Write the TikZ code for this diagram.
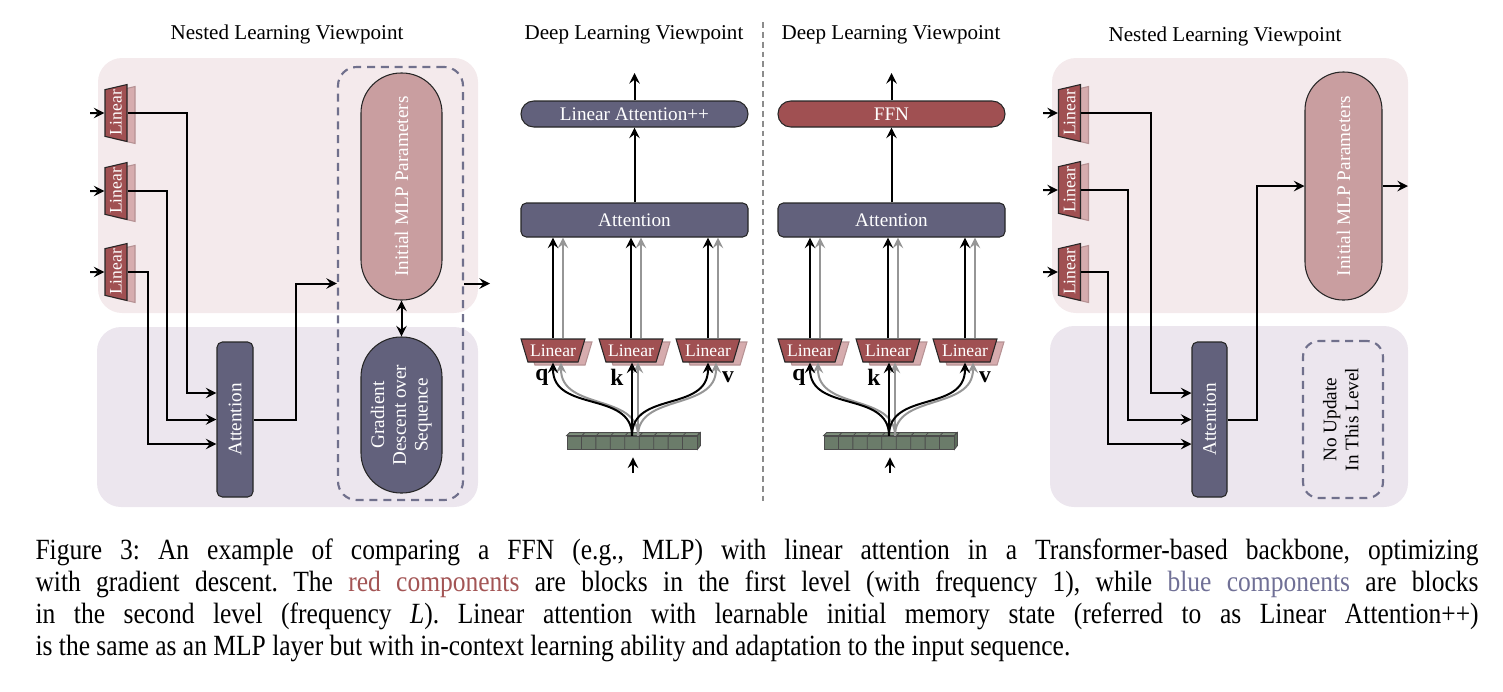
\documentclass[tikz,border=0pt]{standalone}
\usepackage{fontspec}
\setmainfont{Liberation Serif}
\newfontfamily\capfamily[FakeStretch=0.87]{Liberation Serif}
\usepackage{graphicx}
\usetikzlibrary{arrows,shapes.geometric}

\definecolor{blueblk}{RGB}{98,97,124}
\definecolor{redblk}{RGB}{160,80,82}
\definecolor{pinkblk}{RGB}{201,158,160}
\definecolor{linshade}{RGB}{214,172,174}
\definecolor{pinkbg}{RGB}{244,234,236}
\definecolor{lavbg}{RGB}{236,230,238}
\definecolor{tokgreen}{RGB}{107,124,106}
\definecolor{toktop}{RGB}{128,146,126}
\definecolor{tokside}{RGB}{92,108,91}
\definecolor{dashcol}{RGB}{112,112,140}
\definecolor{grayarr}{RGB}{150,150,150}
\definecolor{divgray}{RGB}{140,140,140}
\definecolor{capred}{RGB}{163,85,85}
\definecolor{capblue}{RGB}{112,112,150}

\newcommand{\pu}{0.375pt}
\newcommand{\nodefont}{\fontsize{7.2}{8.2}\selectfont}
\newcommand{\linfont}{\fontsize{6.6}{7}\selectfont}
\newcommand{\titlefont}{\fontsize{7.9}{9}\selectfont}
\newcommand{\capfont}{\capfamily\fontsize{11}{12}\selectfont\frenchspacing}

\tikzset{
  bgpink/.style={fill=pinkbg, rounded corners=9pt},
  bglav/.style={fill=lavbg, rounded corners=9pt},
  block/.style={draw=black!85, line width=0.4pt, text=white, font=\nodefont, inner sep=0pt, rounded corners=2pt},
  hlinear/.style={trapezium, trapezium stretches=true, trapezium angle=118, minimum width=64*\pu, minimum height=23*\pu, inner sep=0pt, font=\linfont, draw=black!85, line width=0.4pt},
  vlinear/.style={trapezium, trapezium stretches=true, trapezium angle=67, minimum width=57*\pu, minimum height=22*\pu, inner sep=0pt, rotate=90, font=\linfont, draw=black!85, line width=0.4pt},
  linmain/.style={fill=redblk, text=white},
  linback/.style={fill=linshade, draw=linshade!85!black},
  flow/.style={-stealth, line width=0.75pt},
  grayflow/.style={flow, draw=grayarr},
  dashbox/.style={draw=dashcol, line width=0.8pt, dash pattern=on 3pt off 2.2pt, inner sep=0pt},
  viewtitle/.style={font=\titlefont},
  qkv/.style={font=\fontsize{8.8}{9}\selectfont\bfseries},
}

\begin{document}
\begin{tikzpicture}[x=\pu, y=-\pu]
\useasboundingbox (0,0) rectangle (1503,691);

% level backgrounds
\fill[bgpink] (98,58) rectangle (478,313);
\fill[bglav] (97,327) rectangle (478,507);
\fill[bgpink] (1052,58) rectangle (1408,313);
\fill[bglav] (1050,326) rectangle (1408,507);

\node[viewtitle] (titleA) at (287,34) {Nested Learning Viewpoint};
\node[viewtitle] (titleD) at (1225,36) {Nested Learning Viewpoint};

% nested learning, left
\node[block, fill=blueblk, minimum width=36*\pu, minimum height=155*\pu] (attA) at (235,419.5) {\rotatebox{90}{Attention}};
\node[dashbox, rounded corners=7pt, minimum width=125*\pu, minimum height=433*\pu] (dashA) at (400.5,283.5) {};
\node[block, fill=pinkblk, rounded corners=15pt, minimum width=81*\pu, minimum height=227*\pu] (mlpA) at (401.5,186.5) {\rotatebox{90}{Initial MLP Parameters}};
\node[block, fill=blueblk, rounded corners=15pt, minimum width=81*\pu, minimum height=156*\pu] (gdA) at (401.5,415) {\rotatebox{90}{\begin{tabular}{@{}c@{}}Gradient\\Descent over\\Sequence\end{tabular}}};
\foreach \i/\ly/\kx/\ky in {1/113/187/393, 2/191/167/419.5, 3/272/148/444}{
  \node[vlinear, linback] (linAs\i) at (124,\ly+2) {\phantom{Linear}};
  \node[vlinear, linmain] (linA\i) at (116,\ly) {Linear};
  \coordinate (inA\i) at (90,\ly);
  \coordinate (jA\i) at (\kx,\ky);
  \draw[flow] (inA\i) -- (linA\i.north);
  \draw[flow] (linA\i.south) -| (jA\i) -- (jA\i -| attA.west);
}
\coordinate (jA4) at (296,283.5);
\draw[flow] (attA.east) -| (jA4) -- (dashA.west);
\draw[stealth-stealth, line width=0.75pt] (mlpA.south) -- (gdA.north);
\coordinate (outA) at (490,283.5);
\draw[flow] (dashA.east) -- (outA);

% divider
\draw[divgray, line width=0.8pt, dash pattern=on 2.2pt off 1.5pt] (763,22) -- (763,505);

% deep learning, middle two
\foreach \p/\dx/\toptext/\topfill in {B/0/{Linear Attention++}/blueblk, C/257/FFN/redblk}{
\begin{scope}[shift={(\dx,0)}]
  \node[viewtitle] (title\p) at (634,35) {Deep Learning Viewpoint};
  \node[block, fill=\topfill, rounded corners=4.8pt, minimum width=227*\pu, minimum height=26*\pu] (top\p) at (634.5,114) {\toptext};
  \node[block, fill=blueblk, minimum width=227*\pu, minimum height=34*\pu] (att\p) at (634.5,220) {Attention};
  \coordinate (out\p) at (634.5,73);
  \draw[flow] (top\p.north) -- (out\p);
  \draw[flow] (att\p.north) -- (top\p.south);
  % token sequence
  \node[draw=black!70, fill=tokgreen, line width=0.3pt, minimum width=130*\pu, minimum height=13*\pu, inner sep=0pt] (seq\p) at (632,442.5) {};
  \filldraw[fill=toktop, draw=black!70, line width=0.3pt] (seq\p.north west) -- ++(3,-3) -- ++(130,0) -- (seq\p.north east) -- cycle;
  \filldraw[fill=tokside, draw=black!70, line width=0.3pt] (seq\p.north east) -- ++(3,-3) -- ++(0,13) -- (seq\p.south east) -- cycle;
  \foreach \cell in {1,...,8}
    \draw[black!70, line width=0.3pt] ({567+\cell*14.444},449) -- ++(0,-13) -- ++(3,-3);
  \coordinate (in\p) at (633,473);
  \draw[flow, shorten >=3pt] (in\p) -- (in\p |- seq\p.south);
  % q k v
  \foreach \i/\lx/\lab/\ldx in {1/553/q/-11, 2/631/k/-14, 3/708/v/20}{
    \node[hlinear, linback] (lins\p\i) at (\lx+7,353.5) {\phantom{Linear}};
    \node[hlinear, linmain] (lin\p\i) at (\lx,350.5) {Linear};
    \node[qkv] (lab\p\i) at (\lx+\ldx,377) {\lab};
    \coordinate (g\p\i) at ([xshift=10*\pu]lin\p\i.north);
    \coordinate (e\p\i) at ([xshift=8*\pu]lin\p\i.south);
    \draw[flow] (lin\p\i.north) -- (lin\p\i.north |- att\p.south);
    \draw[grayflow] (g\p\i) -- (g\p\i |- att\p.south);
  }
  \coordinate (s\p) at ([xshift=6*\pu]seq\p.north);
  \draw[grayflow] (s\p) .. controls +(0,-42) and +(0,48) .. (e\p1);
  \draw[grayflow] (s\p) -- (s\p |- e\p2);
  \draw[grayflow] (s\p) .. controls +(0,-42) and +(0,48) .. (e\p3);
  \draw[flow] (seq\p.north) .. controls +(0,-45) and +(0,50) .. (lin\p1.south);
  \draw[flow] (seq\p.north) -- (seq\p.north |- lin\p2.south);
  \draw[flow] (seq\p.north) .. controls +(0,-45) and +(0,50) .. (lin\p3.south);
\end{scope}
}

% nested learning, right
\node[block, fill=blueblk, minimum width=35*\pu, minimum height=155*\pu] (attD) at (1209.5,419.5) {\rotatebox{90}{Attention}};
\node[block, fill=pinkblk, rounded corners=14.3pt, minimum width=77*\pu, minimum height=228*\pu] (mlpD) at (1343.5,186) {\rotatebox{90}{Initial MLP Parameters}};
\node[dashbox, rounded corners=6pt, font=\nodefont, minimum width=80*\pu, minimum height=157*\pu] (noupD) at (1343,419.5) {\rotatebox{90}{\begin{tabular}{@{}c@{}}No Update\\In This Level\end{tabular}}};
\foreach \i/\ly/\kx/\ky in {1/113/1151/393, 2/190/1128/419.5, 3/272/1108/444}{
  \node[vlinear, linback] (linDs\i) at (1077.5,\ly+2) {\phantom{Linear}};
  \node[vlinear, linmain] (linD\i) at (1069.5,\ly) {Linear};
  \coordinate (inD\i) at (1043,\ly);
  \coordinate (jD\i) at (\kx,\ky);
  \draw[flow] (inD\i) -- (linD\i.north);
  \draw[flow] (linD\i.south) -| (jD\i) -- (jD\i -| attD.west);
}
\coordinate (jD4) at (1257,186);
\draw[flow] (attD.east) -| (jD4) -- (mlpD.west);
\coordinate (outD) at (1408,186);
\draw[flow] (mlpD.east) -- (outD);

% caption
\node[anchor=north west, text width=1443*\pu, align=justify, font=\capfont, inner sep=0pt] (caption) at (35,538) {Figure 3: An example of comparing a FFN (e.g., MLP) with linear attention in a Transformer-based backbone, optimizing\linebreak
with gradient descent. The \textcolor{capred}{red components} are blocks in the first level (with frequency 1), while \textcolor{capblue}{blue components} are blocks\linebreak
in the second level (frequency \textit{L}). Linear attention with learnable initial memory state (referred to as Linear Attention++)\linebreak
is the same as an MLP layer but with in-context learning ability and adaptation to the input sequence.};
\end{tikzpicture}
\end{document}
